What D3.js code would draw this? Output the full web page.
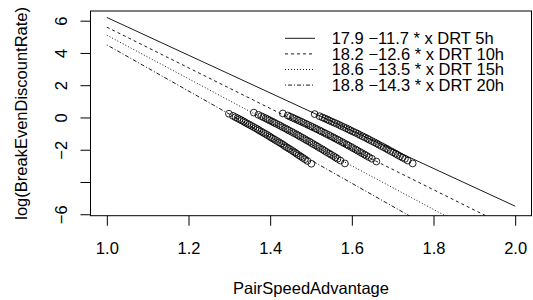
<!DOCTYPE html>
<html>
<head>
<style>
  body{
    margin: 0;
    background: #fff;
    font-family: 'Liberation Sans', Arial, sans-serif;
  }
</style>
</head>
<body>
<svg id="svgVis"></svg>
<script src="https://cdn.jsdelivr.net/npm/d3@7/dist/d3.min.js"></script>
<script>

// axis ticks
var xTicks = [1.0, 1.2, 1.4, 1.6, 1.8, 2.0];
var yTicks = [6, 4, 2, 0, -2, -4, -6];
var yTickLabels = ["6", "4", "2", "0", "\u22122", "", "\u22126"];

// fitted lines (legend)
var fitLabels = ["17.9 \u221211.7 * x DRT 5h", "18.2 \u221212.6 * x DRT 10h",
                 "18.6 \u221213.5 * x DRT 15h", "18.8 \u221214.3 * x DRT 20h"];
var fitIntercept = [17.9, 18.2, 18.6, 18.8];
var fitSlope = [-11.7, -12.6, -13.5, -14.3];
var fitFrom = 1.0, fitTo = 2.0;

// points
var x5h = [1.509,1.521,1.528,1.534,1.540,1.545,1.551,1.557,1.563,1.569,1.574,1.580,1.586,1.592,1.597,1.603,1.609,1.615,1.620,1.626,
           1.632,1.638,1.643,1.649,1.655,1.661,1.666,1.672,1.678,1.684,1.689,1.695,1.701,1.707,1.712,1.718,1.724,1.730,1.737,1.749];
var y5h = [0.21,0.080,0.000,-0.063,-0.128,-0.193,-0.259,-0.325,-0.392,-0.459,-0.527,-0.596,-0.665,-0.735,-0.804,-0.876,-0.946,-1.018,-1.091,-1.163,
           -1.237,-1.311,-1.386,-1.460,-1.536,-1.612,-1.689,-1.767,-1.844,-1.923,-2.001,-2.082,-2.161,-2.241,-2.323,-2.404,-2.487,-2.570,-2.674,-2.85];

var x10h = [1.431,1.443,1.449,1.455,1.460,1.466,1.471,1.477,1.482,1.488,1.493,1.499,1.504,1.510,1.515,1.521,1.526,1.532,1.537,1.543,
            1.548,1.554,1.559,1.565,1.570,1.576,1.581,1.587,1.592,1.598,1.603,1.609,1.614,1.620,1.625,1.631,1.636,1.642,1.649,1.660];
var y10h = [0.25,0.124,0.047,-0.015,-0.077,-0.141,-0.204,-0.269,-0.335,-0.399,-0.466,-0.532,-0.600,-0.667,-0.735,-0.804,-0.873,-0.943,-1.014,-1.084,
            -1.156,-1.228,-1.301,-1.373,-1.448,-1.521,-1.597,-1.672,-1.748,-1.824,-1.901,-1.979,-2.057,-2.136,-2.215,-2.295,-2.375,-2.457,-2.558,-2.73];

var x15h = [1.360,1.371,1.378,1.383,1.389,1.394,1.399,1.405,1.410,1.415,1.421,1.426,1.431,1.437,1.442,1.447,1.453,1.458,1.464,1.469,
            1.474,1.480,1.485,1.490,1.496,1.501,1.506,1.512,1.517,1.522,1.528,1.533,1.538,1.544,1.549,1.555,1.560,1.565,1.572,1.583];
var y15h = [0.30,0.165,0.083,0.017,-0.049,-0.117,-0.184,-0.253,-0.323,-0.391,-0.462,-0.532,-0.604,-0.676,-0.747,-0.821,-0.893,-0.968,-1.043,-1.117,
            -1.193,-1.269,-1.346,-1.423,-1.501,-1.579,-1.658,-1.738,-1.818,-1.898,-1.979,-2.061,-2.143,-2.226,-2.309,-2.393,-2.477,-2.563,-2.670,-2.85];

var x20h = [1.299,1.309,1.315,1.320,1.325,1.330,1.335,1.339,1.344,1.349,1.354,1.359,1.364,1.369,1.373,1.378,1.383,1.388,1.393,1.398,
            1.402,1.407,1.412,1.417,1.422,1.427,1.432,1.436,1.441,1.446,1.451,1.456,1.461,1.465,1.470,1.475,1.480,1.485,1.491,1.501];
var y20h = [0.23,0.098,0.017,-0.047,-0.113,-0.179,-0.246,-0.313,-0.381,-0.449,-0.518,-0.588,-0.658,-0.728,-0.799,-0.871,-0.943,-1.016,-1.089,-1.163,
            -1.237,-1.313,-1.388,-1.463,-1.541,-1.617,-1.696,-1.774,-1.852,-1.932,-2.011,-2.093,-2.173,-2.254,-2.337,-2.419,-2.503,-2.587,-2.692,-2.87];

var lineDash = [null, "3,3", "1,2", "1,2,4,2"];

var width = 533, height = 300;
var plot = {left: 90.5, right: 531.5, top: 11, bottom: 215.7};
var fontSize = "16.5px";

var svg = d3.select("#svgVis")
    .attr("width", width)
    .attr("height", height);

var x = d3.scaleLinear().domain([0.96, 2.04]).range([plot.left, plot.right]);
var y = d3.scaleLinear().domain([-6.09, 6.60]).range([plot.bottom, plot.top]);

svg.append("clipPath").attr("id", "clip")
  .append("rect")
    .attr("x", plot.left).attr("y", plot.top)
    .attr("width", plot.right - plot.left)
    .attr("height", plot.bottom - plot.top);

// fitted lines
var fits = svg.append("g").attr("clip-path", "url(#clip)");
fitIntercept.forEach(function(a, i) {
  fits.append("line")
    .attr("x1", x(fitFrom)).attr("y1", y(a + fitSlope[i] * fitFrom))
    .attr("x2", x(fitTo)).attr("y2", y(a + fitSlope[i] * fitTo))
    .attr("stroke", "#000")
    .attr("stroke-width", 0.9)
    .attr("stroke-dasharray", lineDash[i]);
});

// points
var allX = [x5h, x10h, x15h, x20h];
var allY = [y5h, y10h, y15h, y20h];
allX.forEach(function(xs, s) {
  svg.append("g").selectAll("circle")
    .data(xs)
    .enter()
    .append("circle")
    .attr("cx", function(d) { return x(d); })
    .attr("cy", function(d, i) { return y(allY[s][i]); })
    .attr("r", 3.4)
    .attr("fill", "none")
    .attr("stroke", "#000")
    .attr("stroke-width", 0.85);
});

// frame
svg.append("rect")
  .attr("x", plot.left).attr("y", plot.top)
  .attr("width", plot.right - plot.left)
  .attr("height", plot.bottom - plot.top)
  .attr("fill", "none")
  .attr("stroke", "#000")
  .attr("stroke-width", 1);

// x axis
var xAxis = svg.append("g")
  .attr("transform", "translate(0," + plot.bottom + ")")
  .call(d3.axisBottom(x).tickValues(xTicks).tickSize(10).tickFormat(d3.format(".1f")));
xAxis.select(".domain").remove();
xAxis.selectAll("line").attr("stroke", "#000");
xAxis.selectAll("text")
  .attr("y", 38).attr("dy", 0)
  .attr("fill", "#000")
  .style("font-size", fontSize)
  .style("font-family", "'Liberation Sans', Arial, sans-serif");

// y axis
var yAxis = svg.append("g")
  .attr("transform", "translate(" + plot.left + ",0)")
  .call(d3.axisLeft(y).tickValues(yTicks).tickSize(10)
    .tickFormat(function(d, i) { return yTickLabels[i]; }));
yAxis.select(".domain").remove();
yAxis.selectAll("line").attr("stroke", "#000");
yAxis.selectAll("text")
  .attr("x", 0).attr("dy", 0)
  .attr("text-anchor", "middle")
  .attr("transform", "translate(-23.5,0) rotate(-90)")
  .attr("fill", "#000")
  .style("font-size", fontSize)
  .style("font-family", "'Liberation Sans', Arial, sans-serif");

// axis titles
svg.append("text")
  .attr("x", (plot.left + plot.right) / 2)
  .attr("y", 294)
  .attr("text-anchor", "middle")
  .style("font-size", fontSize)
  .text("PairSpeedAdvantage");

svg.append("text")
  .attr("transform", "translate(27," + (plot.top + plot.bottom) / 2 + ") rotate(-90)")
  .attr("text-anchor", "middle")
  .style("font-size", fontSize)
  .text("log(BreakEvenDiscountRate)");

// legend
var legend = svg.append("g");
fitLabels.forEach(function(lab, i) {
  var ly = 38.3 + i * 15.6;
  legend.append("line")
    .attr("x1", 285).attr("x2", 315)
    .attr("y1", ly).attr("y2", ly)
    .attr("stroke", "#000")
    .attr("stroke-width", 0.9)
    .attr("stroke-dasharray", lineDash[i]);
  legend.append("text")
    .attr("x", 331.7)
    .attr("y", ly)
    .attr("dy", "0.36em")
    .style("font-size", fontSize)
    .text(lab);
});

</script>
</body>
</html>
